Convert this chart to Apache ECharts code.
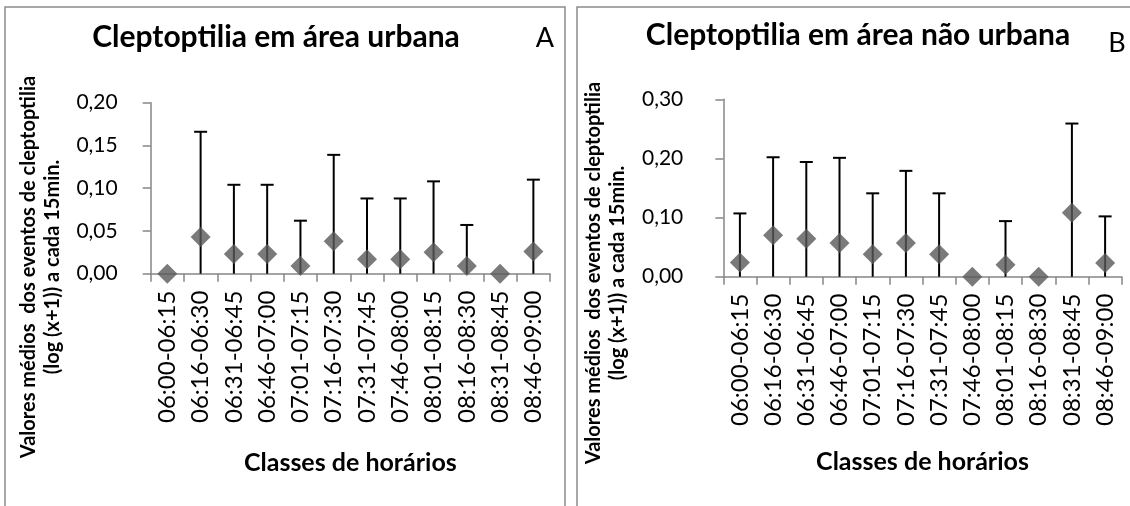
<!DOCTYPE html>
<html>
<head>
<meta charset="utf-8">
<script src="https://cdn.jsdelivr.net/npm/echarts@6/dist/echarts.min.js"></script>
<style>
html,body{margin:0;padding:0;background:#fff;}
#chart{width:1130px;height:506px;}
</style>
</head>
<body>
<div id="chart"></div>
<script>
// ---- data ----
var categories = ['06:00-06:15','06:16-06:30','06:31-06:45','06:46-07:00','07:01-07:15','07:16-07:30','07:31-07:45','07:46-08:00','08:01-08:15','08:16-08:30','08:31-08:45','08:46-09:00'];
var urbanMean = [0, 0.043, 0.023, 0.023, 0.009, 0.038, 0.017, 0.017, 0.025, 0.009, 0, 0.026];
var urbanSD   = [0, 0.123, 0.081, 0.081, 0.053, 0.101, 0.071, 0.071, 0.083, 0.048, 0, 0.084];
var ruralMean = [0.024, 0.070, 0.064, 0.057, 0.038, 0.057, 0.038, 0, 0.020, 0, 0.108, 0.023];
var ruralSD   = [0.083, 0.132, 0.130, 0.144, 0.103, 0.122, 0.103, 0, 0.074, 0, 0.151, 0.079];
var titleA = 'Cleptoptilia em área urbana';
var titleB = 'Cleptoptilia em área não urbana';
var yName = 'Valores médios  dos eventos de cleptoptilia\n(log (x+1)) a cada 15min.';
var xName = 'Classes de horários';

var FONT = 'Lato, "Open Sans", sans-serif';
var AXIS = '#868686';

function errRender(params, api) {
  var i = api.value(0), m = api.value(1), s = api.value(2);
  if (!(s > 0)) return null;
  var lo = Math.max(m - s, 0), hi = m + s;
  var pLo = api.coord([i, lo]), pHi = api.coord([i, hi]);
  var cap = 6.5;
  var st = {stroke: '#000', lineWidth: 2};
  var ch = [
    {type: 'line', shape: {x1: pHi[0], y1: pLo[1], x2: pHi[0], y2: pHi[1]}, style: st},
    {type: 'line', shape: {x1: pHi[0] - cap, y1: pHi[1], x2: pHi[0] + cap, y2: pHi[1]}, style: st}
  ];
  if (m - s >= 0) ch.push({type: 'line', shape: {x1: pLo[0] - cap, y1: pLo[1], x2: pLo[0] + cap, y2: pLo[1]}, style: st});
  return {type: 'group', children: ch};
}
function errData(mean, sd) { return categories.map(function (c, i) { return [i, mean[i], sd[i]]; }); }
function fmt(v) { return v.toFixed(2).replace('.', ','); }

function xAxisCfg(gi, gap) {
  return {
    type: 'category', gridIndex: gi, data: categories, boundaryGap: true,
    axisLine: {show: true, lineStyle: {color: AXIS, width: 1.5}},
    axisTick: {show: true, length: 8, lineStyle: {color: AXIS, width: 1.5}},
    axisLabel: {rotate: 90, margin: 17, fontFamily: FONT, fontSize: 24, color: '#000', interval: 0},
    name: xName, nameLocation: 'middle', nameGap: gap,
    nameTextStyle: {fontFamily: FONT, fontSize: 25, fontWeight: 'bold', color: '#000'}
  };
}
function yAxisCfg(gi, max, interval, margin) {
  return {
    type: 'value', gridIndex: gi, min: 0, max: max, interval: interval,
    splitLine: {show: false},
    axisLine: {show: true, lineStyle: {color: AXIS, width: 1.5}},
    axisTick: {show: true, length: 8, lineStyle: {color: AXIS, width: 1.5}},
    axisLabel: {formatter: fmt, margin: margin, fontFamily: FONT, fontSize: 21, color: '#000'}
  };
}
function yTitle(cx, cy) {
  return {
    type: 'text', x: cx, y: cy, rotation: Math.PI / 2, z: 10,
    style: {text: yName, fontFamily: FONT, fontSize: 20, fontWeight: 'bold', fill: '#000',
            align: 'center', verticalAlign: 'middle', lineHeight: 24}
  };
}

var chart = echarts.init(document.getElementById('chart'), null, {renderer: 'canvas'});
chart.setOption({
  animation: false,
  backgroundColor: '#fff',
  title: [
    {text: titleA, left: 271, top: 17.5, textAlign: 'center', textStyle: {fontFamily: FONT, fontSize: 30, fontWeight: 'bold', color: '#000'}},
    {text: titleB, left: 853, top: 15.5, textAlign: 'center', textStyle: {fontFamily: FONT, fontSize: 30, fontWeight: 'bold', color: '#000'}},
    {text: 'A', left: 540, top: 19.5, textAlign: 'center', textStyle: {fontFamily: FONT, fontSize: 27, fontWeight: 'normal', color: '#000'}},
    {text: 'B', left: 1112, top: 24.5, textAlign: 'center', textStyle: {fontFamily: FONT, fontSize: 27, fontWeight: 'normal', color: '#000'}}
  ],
  graphic: [
    {type: 'rect', shape: {x: 5, y: 7, width: 560, height: 520}, style: {fill: 'none', stroke: '#8c8c8c', lineWidth: 1.5}, z: -1},
    {type: 'rect', shape: {x: 577, y: 7, width: 580, height: 520}, style: {fill: 'none', stroke: '#8c8c8c', lineWidth: 1.5}, z: -1},
    yTitle(40.5, 267),
    yTitle(605.5, 273)
  ],
  grid: [
    {left: 150.7, top: 102.7, width: 399.3, height: 171, containLabel: false},
    {left: 723.3, top: 99.3, width: 398.4, height: 177.4, containLabel: false}
  ],
  xAxis: [xAxisCfg(0, 176.8), xAxisCfg(1, 172.8)],
  yAxis: [yAxisCfg(0, 0.20, 0.05, 33), yAxisCfg(1, 0.30, 0.10, 40)],
  series: [
    {type: 'custom', xAxisIndex: 0, yAxisIndex: 0, renderItem: errRender, data: errData(urbanMean, urbanSD), encode: {x: 0, y: 1}, clip: false, z: 2},
    {type: 'scatter', xAxisIndex: 0, yAxisIndex: 0, data: urbanMean, symbol: 'diamond', symbolSize: 20, itemStyle: {color: '#595959'}, clip: false, z: 3},
    {type: 'custom', xAxisIndex: 1, yAxisIndex: 1, renderItem: errRender, data: errData(ruralMean, ruralSD), encode: {x: 0, y: 1}, clip: false, z: 2},
    {type: 'scatter', xAxisIndex: 1, yAxisIndex: 1, data: ruralMean, symbol: 'diamond', symbolSize: 20, itemStyle: {color: '#595959'}, clip: false, z: 3}
  ]
});
</script>
</body>
</html>
